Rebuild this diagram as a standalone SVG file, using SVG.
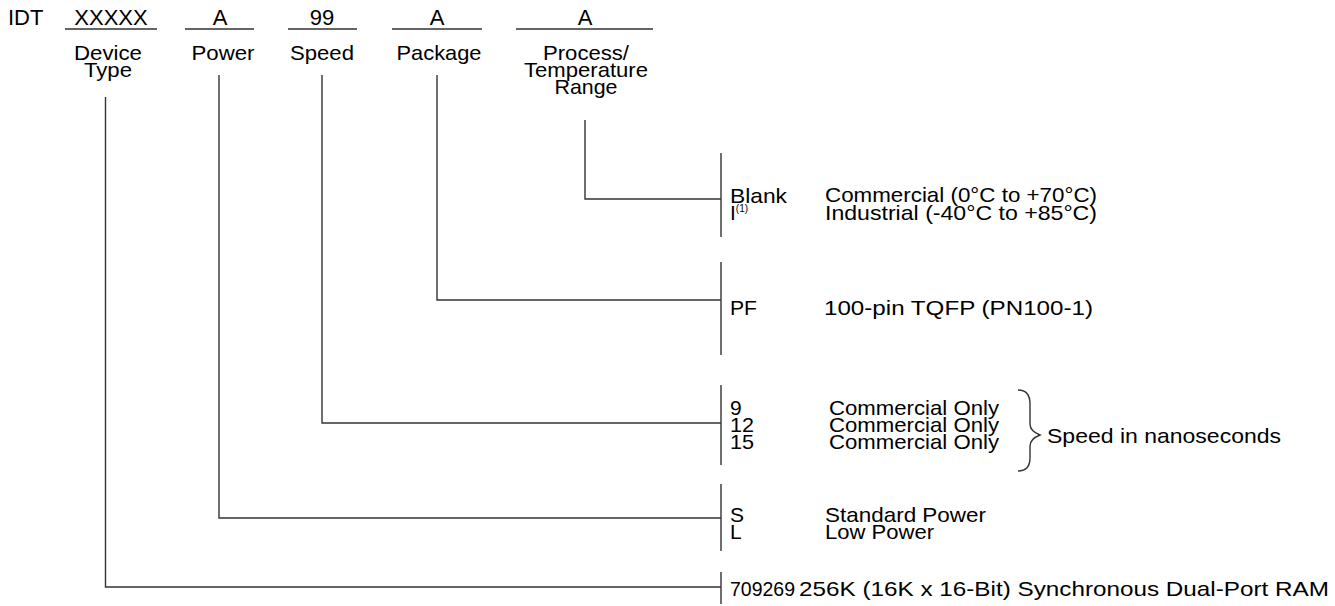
<svg xmlns="http://www.w3.org/2000/svg" width="1335" height="606" viewBox="0 0 1335 606">
<style>
text{font-family:"Liberation Sans",Arial,sans-serif;font-size:21px;fill:#000}
.h{font-size:22px}
.c{text-anchor:middle}
.sup{font-size:10px}
.ln{stroke:#333;stroke-width:1.4;fill:none}
</style>
<rect width="1335" height="606" fill="#fff"/>
<g id="header">
<text class="h" x="8" y="25">IDT</text>
<text class="h c" x="111" y="25">XXXXX</text>
<text class="h c" x="220" y="25">A</text>
<text class="h c" x="322" y="25">99</text>
<text class="h c" x="437" y="25">A</text>
<text class="h c" x="585" y="25">A</text>
<path class="ln" d="M65 29H157M185 29H254M288 29H357M392 29H482M516 29H653"/>
</g>
<g id="device-type"><text class="c" x="108" y="60" textLength="68" lengthAdjust="spacingAndGlyphs">Device</text><text class="c" x="108" y="77" textLength="48" lengthAdjust="spacingAndGlyphs">Type</text></g>
<g id="power"><text class="c" x="223" y="60" textLength="63" lengthAdjust="spacingAndGlyphs">Power</text></g>
<g id="speed"><text class="c" x="322" y="60" textLength="64" lengthAdjust="spacingAndGlyphs">Speed</text></g>
<g id="package"><text class="c" x="439" y="60" textLength="85" lengthAdjust="spacingAndGlyphs">Package</text></g>
<g id="process"><text class="c" x="586" y="60" textLength="86" lengthAdjust="spacingAndGlyphs">Process/</text><text class="c" x="586" y="77" textLength="124" lengthAdjust="spacingAndGlyphs">Temperature</text><text class="c" x="586" y="94" textLength="63" lengthAdjust="spacingAndGlyphs">Range</text></g>
<g id="connectors">
<path class="ln" d="M585 120V199H721"/>
<path class="ln" d="M437 75V300H721"/>
<path class="ln" d="M322 75V423H721"/>
<path class="ln" d="M219 75V518H721"/>
<path class="ln" d="M105.5 97V587H721"/>
<path class="ln" d="M721 153V237M721 262V355M721 385V465M721 484V551M721 572V604"/>
<path class="ln" d="M1018 390Q1030 390 1030 404V424Q1030 431 1040 435Q1030 439 1030 446V458Q1030 471 1018 471"/>
</g>
<g id="temp-options">
<text x="730" y="203" textLength="57" lengthAdjust="spacingAndGlyphs">Blank</text>
<text x="730" y="220">I<tspan class="sup" dy="-8">(1)</tspan></text>
<text x="825" y="202" textLength="272" lengthAdjust="spacingAndGlyphs">Commercial (0°C to +70°C)</text>
<text x="825" y="220" textLength="272" lengthAdjust="spacingAndGlyphs">Industrial (-40°C to +85°C)</text>
</g>
<g id="package-options">
<text x="730" y="315" textLength="27" lengthAdjust="spacingAndGlyphs">PF</text>
<text x="824" y="315" textLength="269" lengthAdjust="spacingAndGlyphs">100-pin TQFP (PN100-1)</text>
</g>
<g id="speed-options">
<text x="730" y="415">9</text><text x="829" y="415" textLength="170" lengthAdjust="spacingAndGlyphs">Commercial Only</text>
<text x="730" y="432" textLength="24" lengthAdjust="spacingAndGlyphs">12</text><text x="829" y="432" textLength="170" lengthAdjust="spacingAndGlyphs">Commercial Only</text>
<text x="730" y="449" textLength="24" lengthAdjust="spacingAndGlyphs">15</text><text x="829" y="449" textLength="170" lengthAdjust="spacingAndGlyphs">Commercial Only</text>
<text x="1047" y="443" textLength="234" lengthAdjust="spacingAndGlyphs">Speed in nanoseconds</text>
</g>
<g id="power-options">
<text x="730" y="522">S</text><text x="825" y="522" textLength="161" lengthAdjust="spacingAndGlyphs">Standard Power</text>
<text x="730" y="539">L</text><text x="825" y="539" textLength="109" lengthAdjust="spacingAndGlyphs">Low Power</text>
</g>
<g id="device-options">
<text x="730" y="596" textLength="65" lengthAdjust="spacingAndGlyphs">709269</text>
<text x="799" y="596" textLength="530" lengthAdjust="spacingAndGlyphs">256K (16K x 16-Bit) Synchronous Dual-Port RAM</text>
</g>
</svg>
